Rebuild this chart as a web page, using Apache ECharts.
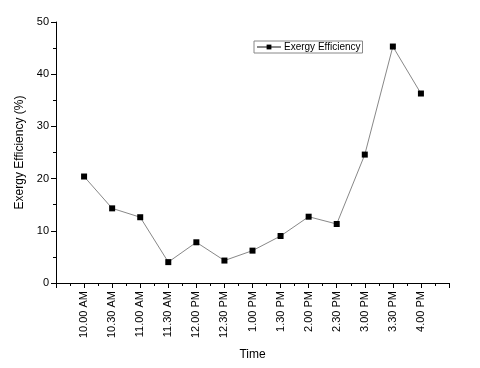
<!DOCTYPE html>
<html><head><meta charset="utf-8">
<script src="https://cdn.jsdelivr.net/npm/echarts@6/dist/echarts.min.js"></script>
<style>html,body{margin:0;padding:0;background:#fff}#c{width:480px;height:368px}</style>
</head><body><div id="c"></div>
<script>
const categories = ['10.00 AM','10.30 AM','11.00 AM','11.30 AM','12.00 PM','12.30 PM','1.00 PM','1.30 PM','2.00 PM','2.30 PM','3.00 PM','3.30 PM','4.00 PM'];
const efficiency = [20.4, 14.3, 12.6, 4.0, 7.8, 4.3, 6.2, 9.0, 12.7, 11.3, 24.6, 45.3, 36.3];
const yTicks = [0, 10, 20, 30, 40, 50];
const seriesName = 'Exergy Efficiency';

const font = 'Liberation Sans, Arial, sans-serif';
const chart = echarts.init(document.getElementById('c'), null, {renderer: 'canvas'});
chart.setOption({
  animation: false,
  backgroundColor: '#fff',
  grid: {left: 56, right: 31, top: 22, bottom: 85, containLabel: false},
  legend: {
    show: true,
    data: [seriesName],
    left: 254, top: 41,
    padding: [1, 2, 1, 2],
    borderColor: '#888', borderWidth: 1,
    itemWidth: 24, itemHeight: 6, itemGap: 4,
    textStyle: {fontFamily: font, fontSize: 10, color: '#000', padding: [0, 0, 0, -2]}
  },
  xAxis: {
    type: 'value', min: 0, max: categories.length + 1, interval: 1,
    name: 'Time', nameLocation: 'middle', nameGap: 66,
    nameTextStyle: {fontFamily: font, fontSize: 12, color: '#000'},
    axisLine: {lineStyle: {color: '#000', width: 1}},
    axisTick: {show: true, length: 5, lineStyle: {color: '#000'}},
    minorTick: {show: true, splitNumber: 2, length: 3, lineStyle: {color: '#000'}},
    splitLine: {show: false},
    axisLabel: {
      rotate: 90, margin: 8, fontFamily: font, fontSize: 11, color: '#000',
      formatter: v => categories[v - 1] || ''
    }
  },
  yAxis: {
    type: 'value', min: yTicks[0], max: yTicks[yTicks.length - 1], interval: 10,
    name: 'Exergy Efficiency (%)', nameLocation: 'middle', nameGap: 28,
    nameTextStyle: {fontFamily: font, fontSize: 12, color: '#000'},
    axisLine: {show: true, lineStyle: {color: '#000', width: 1}},
    axisTick: {show: true, length: 5, lineStyle: {color: '#000'}},
    minorTick: {show: true, splitNumber: 2, length: 3, lineStyle: {color: '#000'}},
    splitLine: {show: false},
    axisLabel: {margin: 7, fontFamily: font, fontSize: 11, color: '#000'}
  },
  series: [{
    name: seriesName, type: 'line',
    data: efficiency.map((v, i) => [i + 1, v]),
    symbol: 'rect', symbolSize: 6,
    itemStyle: {color: '#000'},
    lineStyle: {color: '#888', width: 1}
  }]
});
</script></body></html>
